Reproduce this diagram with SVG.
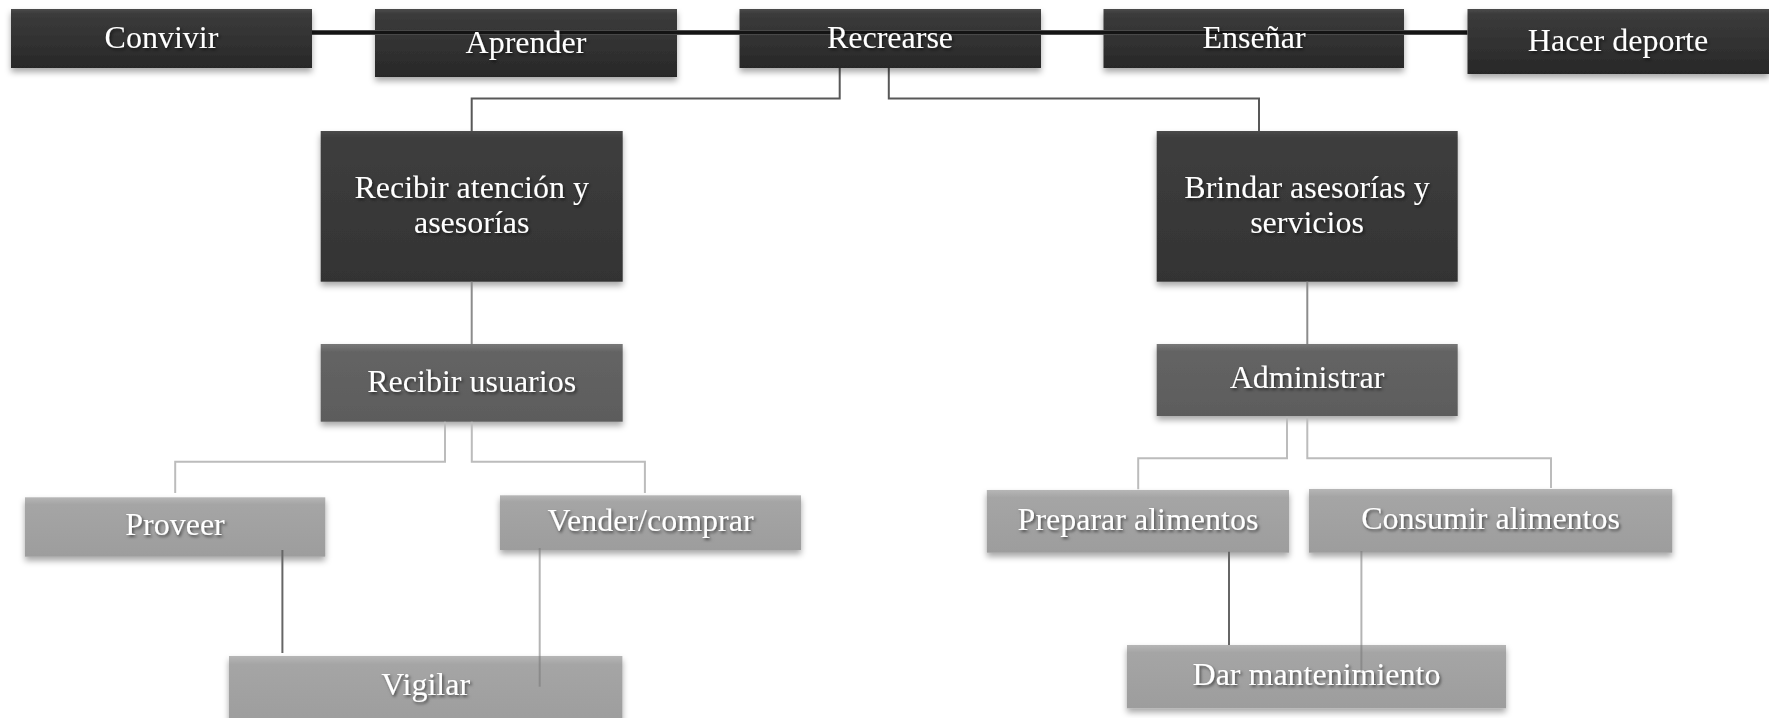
<svg xmlns="http://www.w3.org/2000/svg" width="1769" height="718" viewBox="0 0 1769 718">
  <defs>
    <linearGradient id="gDark" x1="0" y1="0" x2="0" y2="1">
      <stop offset="0" stop-color="#4c4c4c"/>
      <stop offset="0.08" stop-color="#3b3b3b"/>
      <stop offset="1" stop-color="#282828"/>
    </linearGradient>
    <linearGradient id="gDarkTall" x1="0" y1="0" x2="0" y2="1">
      <stop offset="0" stop-color="#4a4a4a"/>
      <stop offset="0.04" stop-color="#3e3e3e"/>
      <stop offset="1" stop-color="#333333"/>
    </linearGradient>
    <linearGradient id="gMid" x1="0" y1="0" x2="0" y2="1">
      <stop offset="0" stop-color="#787878"/>
      <stop offset="0.1" stop-color="#646464"/>
      <stop offset="1" stop-color="#5c5c5c"/>
    </linearGradient>
    <linearGradient id="gLight" x1="0" y1="0" x2="0" y2="1">
      <stop offset="0" stop-color="#b6b6b6"/>
      <stop offset="0.12" stop-color="#a5a5a5"/>
      <stop offset="1" stop-color="#9d9d9d"/>
    </linearGradient>
    <filter id="boxShadow" x="-5%" y="-10%" width="110%" height="130%">
      <feDropShadow dx="0" dy="4" stdDeviation="3" flood-color="#000" flood-opacity="0.35"/>
    </filter>
    <filter id="textShadow" x="-5%" y="-20%" width="110%" height="150%">
      <feDropShadow dx="1.5" dy="2" stdDeviation="1.5" flood-color="#000" flood-opacity="0.55"/>
    </filter>
    <!-- lets the top bar show through the top-row boxes -->
    <mask id="barGap" maskUnits="userSpaceOnUse" x="0" y="0" width="1769" height="718">
      <rect x="0" y="0" width="1769" height="718" fill="#fff"/>
      <rect x="0" y="30.25" width="1769" height="4.5" fill="#000"/>
    </mask>
  </defs>
  <style>
    .box { filter: url(#boxShadow); }
    .dark { fill: url(#gDark); }
    .darkTall { fill: url(#gDarkTall); }
    .mid { fill: url(#gMid); }
    .light { fill: url(#gLight); }
    .lbl { font-family: "Liberation Serif", "Times New Roman", serif; font-size: 32px; fill: #ffffff; text-anchor: middle; filter: url(#textShadow); }
    .cn { fill: none; stroke-width: 2; }
    .c1 { stroke: #585858; }
    .c2 { stroke: #8c8c8c; }
    .c3 { stroke: #bcbcbc; }
    .c4 { stroke: #666666; }
    .c5 { stroke: #777777; stroke-opacity: 0.55; }
  </style>

  <rect width="1769" height="718" fill="#ffffff"/>

  <!-- second level -->
  <g id="recibir-atencion">
    <rect class="box darkTall" x="320.7" y="131" width="302" height="150.7"/>
    <text class="lbl" x="471.7" y="198">Recibir atención y</text>
    <text class="lbl" x="471.7" y="233">asesorías</text>
  </g>
  <g id="brindar-asesorias">
    <rect class="box darkTall" x="1156.7" y="131" width="301" height="150.7"/>
    <text class="lbl" x="1307" y="198">Brindar asesorías y</text>
    <text class="lbl" x="1307" y="233">servicios</text>
  </g>

  <!-- third level -->
  <g id="recibir-usuarios">
    <rect class="box mid" x="320.7" y="344" width="302" height="77.7"/>
    <text class="lbl" x="471.7" y="392">Recibir usuarios</text>
  </g>
  <g id="administrar">
    <rect class="box mid" x="1156.7" y="344" width="301" height="72"/>
    <text class="lbl" x="1307" y="388">Administrar</text>
  </g>

  <!-- fourth level -->
  <g id="proveer">
    <rect class="box light" x="25" y="497.3" width="300.3" height="59.4"/>
    <text class="lbl" x="175" y="535">Proveer</text>
  </g>
  <g id="vender-comprar">
    <rect class="box light" x="500" y="495.3" width="301" height="54.7"/>
    <text class="lbl" x="650.5" y="531">Vender/comprar</text>
  </g>
  <g id="preparar-alimentos">
    <rect class="box light" x="986.8" y="490" width="302.2" height="62.7"/>
    <text class="lbl" x="1138" y="530">Preparar alimentos</text>
  </g>
  <g id="consumir-alimentos">
    <rect class="box light" x="1309" y="489" width="363.3" height="63.7"/>
    <text class="lbl" x="1490.6" y="529">Consumir alimentos</text>
  </g>

  <!-- bottom level -->
  <g id="vigilar">
    <rect class="box light" x="229" y="656" width="393.4" height="70"/>
    <text class="lbl" x="425.7" y="695">Vigilar</text>
  </g>
  <g id="dar-mantenimiento">
    <rect class="box light" x="1127" y="645" width="379" height="63.3"/>
    <text class="lbl" x="1316.5" y="685">Dar mantenimiento</text>
  </g>

  <!-- connectors -->
  <g id="connectors">
    <line x1="308" y1="32.5" x2="1467.5" y2="32.5" stroke="#141414" stroke-width="4.5"/>
    <polyline class="cn c1" points="839.7,68 839.7,98.5 471.7,98.5 471.7,131"/>
    <polyline class="cn c1" points="888.8,68 888.8,98.5 1259,98.5 1259,131"/>
    <line class="cn c2" x1="471.7" y1="281.7" x2="471.7" y2="344"/>
    <line class="cn c2" x1="1307.3" y1="281.7" x2="1307.3" y2="344"/>
    <polyline class="cn c3" points="445,421.7 445,461.7 175.2,461.7 175.2,493"/>
    <polyline class="cn c3" points="471.8,421.7 471.8,461.7 644.9,461.7 644.9,493"/>
    <polyline class="cn c3" points="1287,416.7 1287,458.3 1138.2,458.3 1138.2,489.3"/>
    <polyline class="cn c3" points="1307.3,416.7 1307.3,458.3 1551,458.3 1551,488"/>
    <line class="cn c4" x1="282.4" y1="550" x2="282.4" y2="653"/>
    <line class="cn c5" x1="539.7" y1="548" x2="539.7" y2="686.7"/>
    <line class="cn c4" x1="1229" y1="551.7" x2="1229" y2="645"/>
    <line class="cn c5" x1="1361.4" y1="551" x2="1361.4" y2="671.7"/>
  </g>

  <!-- top row (the bar runs through the middle boxes, under the labels) -->
  <g id="convivir">
    <rect class="box dark" x="11" y="9" width="301" height="59"/>
    <text class="lbl" x="161.5" y="48">Convivir</text>
  </g>
  <g id="aprender">
    <rect class="box dark" x="375" y="9" width="302" height="68" mask="url(#barGap)"/>
    <text class="lbl" x="526" y="53">Aprender</text>
  </g>
  <g id="recrearse">
    <rect class="box dark" x="739.5" y="9" width="301.5" height="59" mask="url(#barGap)"/>
    <text class="lbl" x="890" y="48">Recrearse</text>
  </g>
  <g id="ensenar">
    <rect class="box dark" x="1103.5" y="9" width="300.5" height="59" mask="url(#barGap)"/>
    <text class="lbl" x="1254" y="48">Enseñar</text>
  </g>
  <g id="hacer-deporte">
    <rect class="box dark" x="1467.5" y="9" width="301.5" height="65"/>
    <text class="lbl" x="1618" y="51">Hacer deporte</text>
  </g>
</svg>
